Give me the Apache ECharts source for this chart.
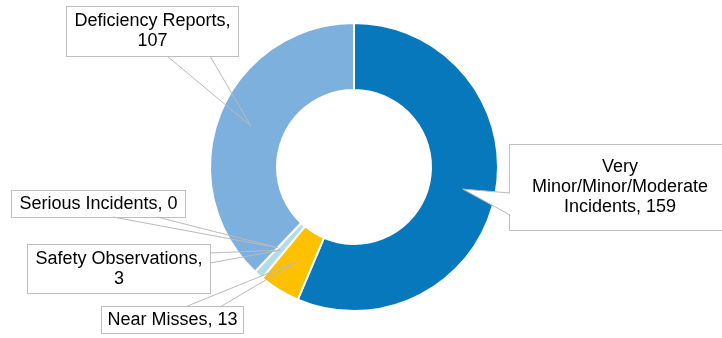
<!DOCTYPE html>
<html><head><meta charset="utf-8">
<script src="https://cdn.jsdelivr.net/npm/echarts/dist/echarts.min.js"></script>
<style>html,body{margin:0;padding:0;background:#fff}#c{width:722px;height:338px}</style>
</head><body><div id="c"></div>
<script>
// ---- data ----
const categories = ['Very Minor/Minor/Moderate Incidents', 'Near Misses', 'Safety Observations', 'Serious Incidents', 'Deficiency Reports'];
const values = [159, 13, 3, 0, 107];
// label display names (line breaks as in reference)
const labelNames = ['Very\nMinor/Minor/Moderate\nIncidents', 'Near Misses', 'Safety Observations', 'Serious Incidents', 'Deficiency Reports'];
const labelSeparators = [', ', ', ', ',\n', ', ', ',\n'];

// ---- styles / layout ----
const colors = ['#0878bd', '#ffc000', '#b4dbe8', '#5b9bd5', '#7eb0dd'];
const lineColor = '#bababa';
const cx = 354, cy = 167, innerR = 77, outerR = 144, tipR = 111;
// callout boxes: [left, top, right, bottom]
const boxes = [
  [510, 145, 730, 230],
  [102, 307, 243, 333],
  [28, 245, 210, 293],
  [12, 191, 185, 217],
  [67, 7, 238, 56]
];
// wedge base on box: [side, from, to] offsets along the side
const wedges = [
  ['left', 48, 70],
  ['top', 83, 118],
  ['right', 8, 18],
  ['bottom', 101, 145],
  ['bottom', 100, 143]
];
const wedgeFilled = [true, false, false, false, false];
const lineH = 20;

const chart = echarts.init(document.getElementById('c'), null, {renderer: 'canvas'});
const wedgePts = [];

function makeData(visible) {
  return categories.map(function (name, i) {
    const b = boxes[i];
    const lines = (labelNames[i] + labelSeparators[i]).split('\n').length;
    const padV = ((b[3] - b[1]) - lines * lineH) / 2;
    return {
      name: name,
      value: values[i],
      itemStyle: {color: visible ? colors[i] : 'rgba(0,0,0,0)'},
      label: {width: (b[2] - b[0]) - 2, padding: [padV, 1, padV, 1]}
    };
  });
}

function boxLayout(withLine) {
  return function (params) {
    const i = params.dataIndex;
    const b = boxes[i], w = wedges[i];
    const out = {
      x: (b[0] + b[2]) / 2,
      y: b[1],
      align: 'center',
      verticalAlign: 'top'
    };
    if (withLine) {
      const p0 = params.labelLinePoints ? params.labelLinePoints[0] : [cx, cy];
      const k = tipR / outerR;
      const tip = [cx + (p0[0] - cx) * k, cy + (p0[1] - cy) * k];
      let A, B;
      if (w[0] === 'left') { A = [b[0], b[1] + w[1]]; B = [b[0], b[1] + w[2]]; }
      else if (w[0] === 'right') { A = [b[2], b[1] + w[1]]; B = [b[2], b[1] + w[2]]; }
      else if (w[0] === 'top') { A = [b[0] + w[1], b[1]]; B = [b[0] + w[2], b[1]]; }
      else { A = [b[0] + w[1], b[3]]; B = [b[0] + w[2], b[3]]; }
      out.labelLinePoints = [A, tip, B];
      wedgePts[i] = [A, tip, B];
    }
    return out;
  };
}

const fmt = function (p) {
  return labelNames[p.dataIndex] + labelSeparators[p.dataIndex] + p.value;
};

const baseSeries = {
  type: 'pie',
  center: [cx, cy],
  radius: [innerR, outerR],
  startAngle: 90,
  clockwise: true,
  avoidLabelOverlap: false,
  silent: true
};

chart.setOption({
  animation: false,
  backgroundColor: '#ffffff',
  series: [
    Object.assign({}, baseSeries, {
      z: 2,
      itemStyle: {borderColor: '#ffffff', borderWidth: 2},
      label: {
        show: true,
        position: 'outside',
        formatter: fmt,
        color: '#000000',
        fontFamily: 'Liberation Sans, Arial, sans-serif',
        fontSize: 18,
        lineHeight: lineH,
        align: 'center',
        overflow: 'none',
        backgroundColor: '#ffffff',
        borderColor: '#bfbfbf',
        borderWidth: 1
      },
      labelLine: {show: false},
      labelLayout: boxLayout(false),
      data: makeData(true)
    }),
    Object.assign({}, baseSeries, {
      z: 4,
      itemStyle: {borderWidth: 0},
      label: {
        show: true,
        position: 'outside',
        formatter: fmt,
        color: 'rgba(0,0,0,0)',
        fontFamily: 'Liberation Sans, Arial, sans-serif',
        fontSize: 18,
        lineHeight: lineH,
        align: 'center',
        overflow: 'none'
      },
      labelLine: {show: true, length: 10, length2: 10, lineStyle: {color: lineColor, width: 1}},
      labelLayout: boxLayout(true),
      data: makeData(false)
    })
  ]
});

// white fill for callout wedges that are filled in the reference (derived from the computed label layout)
const fills = [];
wedgePts.forEach(function (pts, i) {
  if (pts && wedgeFilled[i]) {
    fills.push({
      type: 'polygon',
      z: 3,
      silent: true,
      shape: {points: pts},
      style: {fill: '#ffffff', stroke: null}
    });
  }
});
if (fills.length) chart.setOption({graphic: fills});
</script>
</body></html>
